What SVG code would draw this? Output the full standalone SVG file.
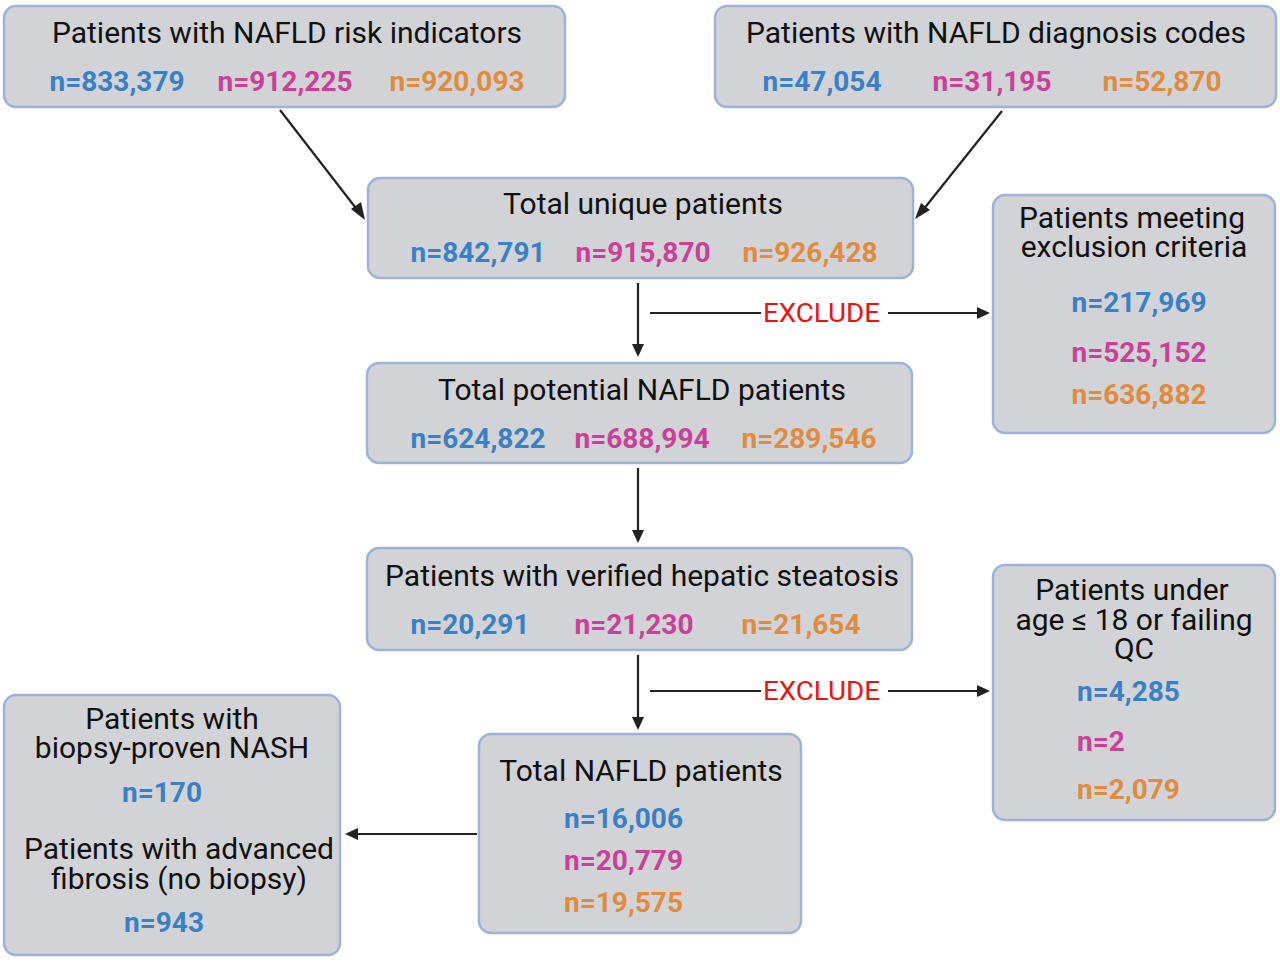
<svg xmlns="http://www.w3.org/2000/svg" width="1280" height="962" viewBox="0 0 1280 962">
<style>
.box{fill:#d1d3d6;stroke:#9eb1d8;stroke-width:2.5}
.t{font-family:Roboto,"Liberation Sans",sans-serif;font-size:30px;fill:#111;text-anchor:middle}
.n{font-family:Roboto,"Liberation Sans",sans-serif;font-size:28px;font-weight:bold;text-anchor:middle}
.l{text-anchor:start}
.b{fill:#3a80c6}
.m{fill:#cd3f97}
.o{fill:#e08b3d}
.ex{font-family:Roboto,"Liberation Sans",sans-serif;font-size:26px;fill:#ee1111}
.c{stroke:#222;stroke-width:2.2;fill:none}
</style>
<rect width="1280" height="962" fill="#fff"/>
<g id="connectors">
<line class="c" x1="280" y1="110" x2="362" y2="216"/>
<line class="c" x1="1002" y1="111" x2="919" y2="215"/>
<line class="c" x1="638" y1="283" x2="638" y2="346"/>
<line class="c" x1="650" y1="313" x2="761" y2="313"/>
<line class="c" x1="888" y1="313" x2="980" y2="313"/>
<line class="c" x1="638" y1="468" x2="638" y2="532"/>
<line class="c" x1="638" y1="655" x2="638" y2="719"/>
<line class="c" x1="650" y1="691" x2="761" y2="691"/>
<line class="c" x1="888" y1="691" x2="980" y2="691"/>
<line class="c" x1="477" y1="834" x2="356" y2="834"/>
<g fill="#222">
<path d="M365,220 L351,209 L361,202 z"/>
<path d="M915,219 L921,203 L930,210 z"/>
<path d="M638,357 L632,344 L644,344 z"/>
<path d="M990,313 L977,307 L977,319 z"/>
<path d="M638,543 L632,530 L644,530 z"/>
<path d="M638,730 L632,717 L644,717 z"/>
<path d="M990,691 L977,685 L977,697 z"/>
<path d="M345,834 L358,828 L358,840 z"/>
</g>
<text class="ex" x="763" y="322" textLength="117" lengthAdjust="spacingAndGlyphs">EXCLUDE</text>
<text class="ex" x="763" y="700" textLength="117" lengthAdjust="spacingAndGlyphs">EXCLUDE</text>
</g>
<g id="risk">
<rect class="box" x="4" y="6" width="561" height="101" rx="12"/>
<text class="t" x="287" y="43">Patients with NAFLD risk indicators</text>
<text class="n b" x="117" y="91">n=833,379</text>
<text class="n m" x="285" y="91">n=912,225</text>
<text class="n o" x="457" y="91">n=920,093</text>
</g>
<g id="diag">
<rect class="box" x="715" y="6" width="561" height="101" rx="12"/>
<text class="t" x="996" y="43">Patients with NAFLD diagnosis codes</text>
<text class="n b" x="822" y="91">n=47,054</text>
<text class="n m" x="992" y="91">n=31,195</text>
<text class="n o" x="1162" y="91">n=52,870</text>
</g>
<g id="unique">
<rect class="box" x="368" y="178" width="545" height="100" rx="12"/>
<text class="t" x="643" y="214">Total unique patients</text>
<text class="n b" x="478" y="262">n=842,791</text>
<text class="n m" x="643" y="262">n=915,870</text>
<text class="n o" x="810" y="262">n=926,428</text>
</g>
<g id="exclusion">
<rect class="box" x="993" y="195" width="282" height="238" rx="12"/>
<text class="t" x="1132" y="228">Patients meeting</text>
<text class="t" x="1134" y="257">exclusion criteria</text>
<text class="n b" x="1139" y="312">n=217,969</text>
<text class="n m" x="1139" y="362">n=525,152</text>
<text class="n o" x="1139" y="404">n=636,882</text>
</g>
<g id="potential">
<rect class="box" x="367" y="363" width="545" height="100" rx="12"/>
<text class="t" x="642" y="400">Total potential NAFLD patients</text>
<text class="n b" x="478" y="448">n=624,822</text>
<text class="n m" x="642" y="448">n=688,994</text>
<text class="n o" x="809" y="448">n=289,546</text>
</g>
<g id="verified">
<rect class="box" x="367" y="548" width="545" height="102" rx="12"/>
<text class="t" x="642" y="586">Patients with verified hepatic steatosis</text>
<text class="n b" x="470" y="634">n=20,291</text>
<text class="n m" x="634" y="634">n=21,230</text>
<text class="n o" x="801" y="634">n=21,654</text>
</g>
<g id="underage">
<rect class="box" x="993" y="565" width="282" height="255" rx="12"/>
<text class="t" x="1132" y="600">Patients under</text>
<text class="t" x="1134" y="630">age ≤ 18 or failing</text>
<text class="t" x="1134" y="659">QC</text>
<text class="n b l" x="1077" y="701">n=4,285</text>
<text class="n m l" x="1077" y="751">n=2</text>
<text class="n o l" x="1077" y="799">n=2,079</text>
</g>
<g id="total">
<rect class="box" x="479" y="734" width="322" height="199" rx="12"/>
<text class="t" x="641" y="781">Total NAFLD patients</text>
<text class="n b l" x="564" y="828">n=16,006</text>
<text class="n m l" x="564" y="870">n=20,779</text>
<text class="n o l" x="564" y="912">n=19,575</text>
</g>
<g id="nash">
<rect class="box" x="4" y="695" width="336" height="260" rx="12"/>
<text class="t" x="172" y="729">Patients with</text>
<text class="t" x="172" y="758">biopsy-proven NASH</text>
<text class="n b" x="162" y="802">n=170</text>
<text class="t" x="179" y="859">Patients with advanced</text>
<text class="t" x="179" y="889">fibrosis (no biopsy)</text>
<text class="n b" x="164" y="932">n=943</text>
</g>
</svg>
